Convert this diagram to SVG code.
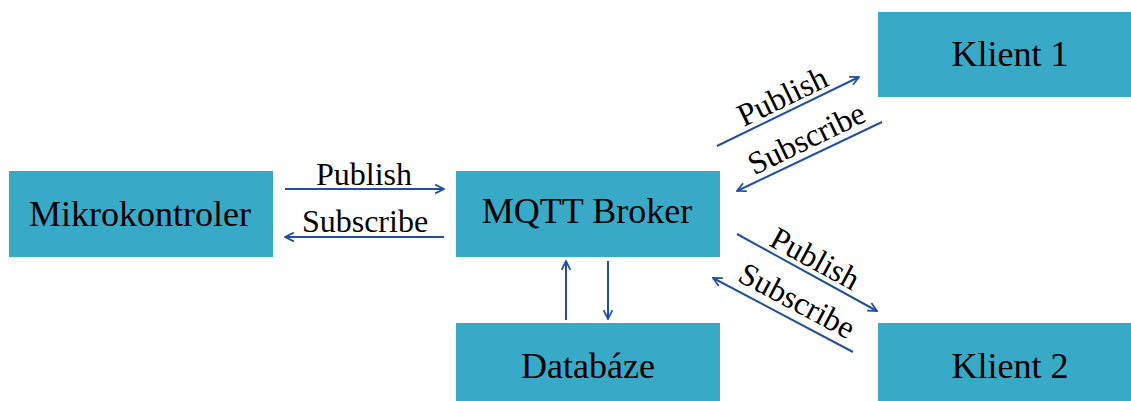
<svg xmlns="http://www.w3.org/2000/svg" width="1131" height="401" viewBox="0 0 1131 401">
<defs>
<marker id="ah" viewBox="0 0 10 10" refX="9" refY="5" markerWidth="11" markerHeight="11" markerUnits="userSpaceOnUse" orient="auto">
<path d="M1,1 L9,5 L1,9" fill="none" stroke="#22509c" stroke-width="1.6"/>
</marker>
<style>
.box{fill:#38a9c7}
.nt{font-family:"Liberation Serif",serif;font-size:36px;fill:#000;text-anchor:middle}
.lb{font-family:"Liberation Serif",serif;font-size:32px;fill:#000;text-anchor:middle}
.ln{stroke:#22509c;stroke-width:2;fill:none;marker-end:url(#ah)}
</style>
</defs>
<rect width="1131" height="401" fill="#fff"/>
<g id="mikrokontroler"><rect class="box" x="9" y="171" width="264" height="86"/><text class="nt" x="140" y="226">Mikrokontroler</text></g>
<g id="broker"><rect class="box" x="456" y="171" width="264" height="86"/><text class="nt" x="587" y="223">MQTT Broker</text></g>
<g id="databaze"><rect class="box" x="456" y="323" width="264" height="78"/><text class="nt" x="588" y="378">Databáze</text></g>
<g id="klient1"><rect class="box" x="878" y="12" width="253" height="85"/><text class="nt" x="1010" y="66">Klient 1</text></g>
<g id="klient2"><rect class="box" x="878" y="323" width="253" height="78"/><text class="nt" x="1010" y="378">Klient 2</text></g>
<g id="connectors">
<line class="ln" x1="285" y1="189" x2="444" y2="189"/>
<line class="ln" x1="444" y1="237" x2="285" y2="237"/>
<line class="ln" x1="566" y1="320" x2="566" y2="261"/>
<line class="ln" x1="608" y1="261" x2="608" y2="319"/>
<line class="ln" x1="717" y1="146" x2="859" y2="77"/>
<line class="ln" x1="882" y1="122" x2="737" y2="191"/>
<line class="ln" x1="737" y1="234" x2="877" y2="311"/>
<line class="ln" x1="853" y1="352" x2="713" y2="278"/>
<text class="lb" x="364" y="185">Publish</text>
<text class="lb" x="365" y="232">Subscribe</text>
<text class="lb" transform="translate(787,106) rotate(-25.8)">Publish</text>
<text class="lb" transform="translate(811,148) rotate(-25.8)">Subscribe</text>
<text class="lb" transform="translate(810,268) rotate(28.5)">Publish</text>
<text class="lb" transform="translate(792,310) rotate(28)">Subscribe</text>
</g>
</svg>
